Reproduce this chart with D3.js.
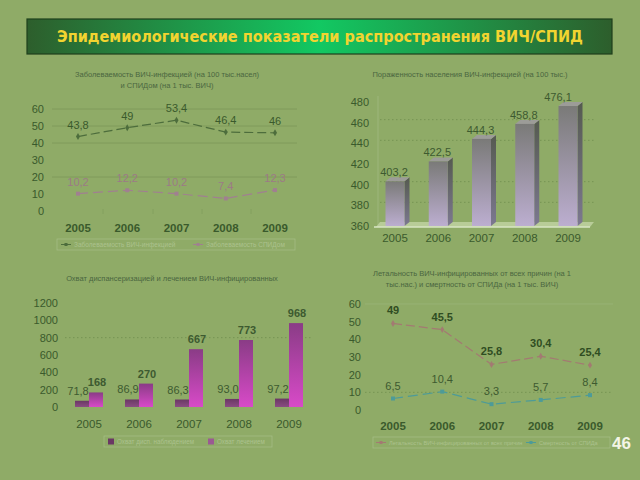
<!DOCTYPE html>
<html><head><meta charset="utf-8">
<script src="https://cdn.jsdelivr.net/npm/d3@7/dist/d3.min.js"></script>
<style>html,body{margin:0;padding:0;background:#8fab67;}svg{display:block;}</style>
</head><body>
<svg id="c" width="640" height="480"></svg>
<script>
// ---- data ----
const years = ["2005", "2006", "2007", "2008", "2009"];
const hivIncidence = [43.8, 49, 53.4, 46.4, 46];
const aidsIncidence = [10.2, 12.2, 10.2, 7.4, 12.3];
const hivPrevalence = [403.2, 422.5, 444.3, 458.8, 476.1];
const dispCoverage = [71.8, 86.9, 86.3, 93.0, 97.2];
const treatCoverage = [168, 270, 667, 773, 968];
const hivMortality = [49, 45.5, 25.8, 30.4, 25.4];
const aidsMortality = [6.5, 10.4, 3.3, 5.7, 8.4];
const ticks1 = [0, 10, 20, 30, 40, 50, 60];
const ticks2 = [360, 380, 400, 420, 440, 460, 480];
const ticks3 = [0, 200, 400, 600, 800, 1000, 1200];
const ticks4 = [0, 10, 20, 30, 40, 50, 60];
const mainTitle = "Эпидемиологические показатели распространения ВИЧ/СПИД";
const title1 = ["Заболеваемость ВИЧ-инфекцией (на 100 тыс.насел)", "и СПИДом (на 1 тыс. ВИЧ)"];
const title2 = ["Пораженность населения ВИЧ-инфекцией (на 100 тыс.)"];
const title3 = ["Охват диспансеризацией и лечением ВИЧ-инфицированных"];
const title4 = ["Летальность ВИЧ-инфицированных от всех причин (на 1", "тыс.нас.) и смертность от СПИДа (на 1 тыс. ВИЧ)"];
const legend1 = ["Заболеваемость ВИЧ-инфекцией", "Заболеваемость СПИДом"];
const legend3 = ["Охват дисп. наблюдением", "Охват лечением"];
const legend4 = ["Летальность ВИЧ-инфицированных от всех причин", "Смертность от СПИДа"];
const pageNumber = "46";

const svg = d3.select("#c");
const FONT = "'Liberation Sans', Arial, sans-serif";
const TXT = "#3a5a2c";
const defs = svg.append("defs");

svg.append("rect").attr("width", 640).attr("height", 480).attr("fill", "#8fab67");

// banner
const bg = defs.append("linearGradient").attr("id", "ban").attr("x1", 0).attr("x2", 1);
bg.append("stop").attr("offset", 0).attr("stop-color", "#2d5e2c");
bg.append("stop").attr("offset", 0.5).attr("stop-color", "#12c862");
bg.append("stop").attr("offset", 1).attr("stop-color", "#2d5e2c");
svg.append("rect").attr("x", 27).attr("y", 19).attr("width", 585).attr("height", 35)
  .attr("fill", "url(#ban)").attr("stroke", "#1f3f1c").attr("stroke-width", 1.2);
svg.append("text").attr("x", 57).attr("y", 42).attr("textLength", 526).attr("lengthAdjust", "spacingAndGlyphs")
  .attr("font-family", "'DejaVu Sans', Verdana, sans-serif").attr("font-weight", "bold").attr("font-size", 15)
  .attr("fill", "#f2d430").text(mainTitle);

svg.append("text").attr("x", 631).attr("y", 449).attr("text-anchor", "end").attr("font-family", FONT)
  .attr("font-weight", "bold").attr("font-size", 17).attr("fill", "#f3f5e6").text(pageNumber);

function titleLines(lines, cx, y0) {
  lines.forEach((l, i) => svg.append("text").attr("x", cx).attr("y", y0 + i * 11).attr("text-anchor", "middle")
    .attr("font-family", FONT).attr("font-size", 7.5).attr("fill", "#4a6640").text(l));
}
function yTicks(scale, ticks, xr) {
  ticks.forEach(t => svg.append("text").attr("x", xr).attr("y", scale(t) + 4).attr("text-anchor", "end")
    .attr("font-family", FONT).attr("font-size", 11).attr("fill", TXT).text(t));
}
function xLabels(pos, y, bold) {
  years.forEach(yr => svg.append("text").attr("x", pos(yr)).attr("y", y).attr("text-anchor", "middle")
    .attr("font-family", FONT).attr("font-size", 11.5).attr("font-weight", bold ? "bold" : "normal")
    .attr("fill", TXT).text(yr));
}
const comma = v => String(v).replace(".", ",");
const comma1 = v => v.toFixed(1).replace(".", ",");

function legendBox(x, y, w, h, items) {
  svg.append("rect").attr("x", x).attr("y", y).attr("width", w).attr("height", h)
    .attr("fill", "none").attr("stroke", "#a4bc84").attr("stroke-width", 0.8);
  items.forEach(it => {
    let tx;
    if (it.type === "line") {
      svg.append("line").attr("x1", it.x).attr("x2", it.x + 10).attr("y1", y + h / 2).attr("y2", y + h / 2)
        .attr("stroke", it.color).attr("stroke-width", 1);
      svg.append("rect").attr("x", it.x + 3.5).attr("y", y + h / 2 - 1.5).attr("width", 3).attr("height", 3).attr("fill", it.color);
      tx = it.x + 13;
    } else {
      svg.append("rect").attr("x", it.x).attr("y", y + h / 2 - 3).attr("width", 6).attr("height", 6).attr("fill", it.color);
      tx = it.x + 9;
    }
    svg.append("text").attr("x", tx).attr("y", y + h / 2 + 2.2).attr("font-family", FONT).attr("font-size", it.fs || 6.5)
      .attr("fill", "#acc28e").text(it.label);
  });
}

// ================= Chart 1 =================
{
  const x = d3.scalePoint().domain(years).range([78, 275]);
  const y = d3.scaleLinear().domain([0, 60]).range([211, 109]);
  titleLines(title1, 167, 77);
  [60, 50, 40, 20].forEach(t => svg.append("line").attr("x1", 52).attr("x2", 297).attr("y1", y(t)).attr("y2", y(t))
    .attr("stroke", "#7b9858").attr("stroke-width", 0.8));
  [103, 153, 202, 251].forEach(xx => svg.append("line").attr("x1", xx).attr("x2", xx).attr("y1", 209).attr("y2", 214)
    .attr("stroke", "#819e5e").attr("stroke-width", 0.8));
  yTicks(y, ticks1, 44);
  xLabels(x, 232, true);
  const line = d3.line().x((d, i) => x(years[i])).y(d => y(d));
  const c1 = "#4d6d3c", c2 = "#a08090";
  svg.append("path").datum(hivIncidence).attr("d", line).attr("fill", "none").attr("stroke", c1)
    .attr("stroke-width", 1.2).attr("stroke-dasharray", "9,4");
  svg.append("path").datum(aidsIncidence).attr("d", line).attr("fill", "none").attr("stroke", c2)
    .attr("stroke-width", 1.2).attr("stroke-dasharray", "10,5");
  svg.selectAll(".m1").data(hivIncidence).enter().append("path")
    .attr("d", d3.symbol().type(d3.symbolDiamond).size(14)).attr("transform", (d, i) => `translate(${x(years[i])},${y(d)})`).attr("fill", c1);
  svg.selectAll(".m2").data(aidsIncidence).enter().append("rect")
    .attr("x", (d, i) => x(years[i]) - 2).attr("y", d => y(d) - 2).attr("width", 4).attr("height", 4).attr("fill", c2);
  svg.selectAll(".l1").data(hivIncidence).enter().append("text").attr("x", (d, i) => x(years[i])).attr("y", d => y(d) - 8)
    .attr("text-anchor", "middle").attr("font-family", FONT).attr("font-size", 11).attr("fill", "#3a5a2c").text(comma);
  svg.selectAll(".l2").data(aidsIncidence).enter().append("text").attr("x", (d, i) => x(years[i])).attr("y", d => y(d) - 8)
    .attr("text-anchor", "middle").attr("font-family", FONT).attr("font-size", 11).attr("fill", "#9c7a86").text(comma);
  legendBox(57, 239, 238, 11, [
    { type: "line", x: 61, color: c1, label: legend1[0] },
    { type: "line", x: 193, color: c2, label: legend1[1] }]);
}

// ================= Chart 2 =================
{
  const x = d3.scalePoint().domain(years).range([395, 568]);
  const y = d3.scaleLinear().domain([360, 480]).range([226, 102]);
  titleLines(title2, 470, 77);
  [380, 400, 440, 460].forEach(t => svg.append("line").attr("x1", 380).attr("x2", 595).attr("y1", y(t) - 3).attr("y2", y(t) - 3)
    .attr("stroke", "#6f8e4e").attr("stroke-width", 0.8).attr("stroke-dasharray", "1.5,2.5"));
  svg.append("line").attr("x1", 378).attr("x2", 378).attr("y1", 96).attr("y2", 226).attr("stroke", "#9db67c").attr("stroke-width", 1);
  svg.append("polygon").attr("points", `376,227 380,222 594,222 590,227`).attr("fill", "#b8cc98");
  svg.append("line").attr("x1", 374).attr("x2", 590).attr("y1", 227).attr("y2", 227).attr("stroke", "#d8e6c4").attr("stroke-width", 1.5);
  yTicks(y, ticks2, 369);
  xLabels(x, 242, false);
  const fg = defs.append("linearGradient").attr("id", "bf").attr("x1", 0).attr("x2", 0).attr("y1", 0).attr("y2", 1);
  fg.append("stop").attr("offset", 0).attr("stop-color", "#7a7a78");
  fg.append("stop").attr("offset", 1).attr("stop-color", "#bcaed0");
  const sg = defs.append("linearGradient").attr("id", "bs").attr("x1", 0).attr("x2", 0).attr("y1", 0).attr("y2", 1);
  sg.append("stop").attr("offset", 0).attr("stop-color", "#555a50");
  sg.append("stop").attr("offset", 1).attr("stop-color", "#7c7890");
  const w = 19, d = 5, dy = 4, base = y(360);
  hivPrevalence.forEach((v, i) => {
    const x0 = x(years[i]) - w / 2, yt = y(v);
    svg.append("polygon").attr("points", `${x0 + w},${yt} ${x0 + w + d},${yt - dy} ${x0 + w + d},${base - dy} ${x0 + w},${base}`).attr("fill", "url(#bs)");
    svg.append("polygon").attr("points", `${x0},${yt} ${x0 + d},${yt - dy} ${x0 + w + d},${yt - dy} ${x0 + w},${yt}`).attr("fill", "#9c9c98");
    svg.append("rect").attr("x", x0).attr("y", yt).attr("width", w).attr("height", base - yt).attr("fill", "url(#bf)");
    svg.append("text").attr("x", x(years[i]) - (i === 4 ? 10 : 1)).attr("y", yt - 5).attr("text-anchor", "middle")
      .attr("font-family", FONT).attr("font-size", 11).attr("fill", "#3d5a30").text(v.toFixed(1).replace(".", ","));
  });
}

// ================= Chart 3 =================
{
  const x = d3.scaleBand().domain(years).range([64, 314]);
  const y = d3.scaleLinear().domain([0, 1200]).range([407, 303]);
  titleLines(title3, 172, 281);
  svg.append("line").attr("x1", 65).attr("x2", 312).attr("y1", y(800)).attr("y2", y(800))
    .attr("stroke", "#6f8e4e").attr("stroke-width", 0.8).attr("stroke-dasharray", "1.5,2.5");
  yTicks(y, ticks3, 58);
  xLabels(yr => x(yr) + x.bandwidth() / 2, 428, false);
  const g1 = defs.append("linearGradient").attr("id", "p1").attr("x1", 0).attr("x2", 0).attr("y1", 0).attr("y2", 1);
  g1.append("stop").attr("offset", 0).attr("stop-color", "#6a3864");
  g1.append("stop").attr("offset", 1).attr("stop-color", "#8a4c82");
  const g2 = defs.append("linearGradient").attr("id", "p2").attr("x1", 0).attr("x2", 0).attr("y1", 0).attr("y2", 1);
  g2.append("stop").attr("offset", 0).attr("stop-color", "#8a3c86");
  g2.append("stop").attr("offset", 1).attr("stop-color", "#d84ac8");
  const bw = 14;
  years.forEach((yr, i) => {
    const c = x(yr) + x.bandwidth() / 2;
    const v1 = dispCoverage[i], v2 = treatCoverage[i];
    svg.append("rect").attr("x", c - bw).attr("y", y(v1)).attr("width", bw).attr("height", y(0) - y(v1)).attr("fill", "url(#p1)");
    svg.append("rect").attr("x", c).attr("y", y(v2)).attr("width", bw).attr("height", y(0) - y(v2)).attr("fill", "url(#p2)");
    svg.append("text").attr("x", c - bw / 2 - 4).attr("y", y(v1) - 6).attr("text-anchor", "middle")
      .attr("font-family", FONT).attr("font-size", 11).attr("fill", "#3d5a30").text(comma1(v1));
    svg.append("text").attr("x", c + bw / 2 + 1).attr("y", y(v2) - 6).attr("text-anchor", "middle")
      .attr("font-family", FONT).attr("font-size", 11).attr("fill", "#3d5a30").attr("font-weight", "bold").text(v2);
  });
  legendBox(104, 436, 168, 11, [
    { type: "box", x: 108, color: "#6a3864", label: legend3[0], fs: 6.3 },
    { type: "box", x: 208, color: "#9a5a92", label: legend3[1], fs: 6.3 }]);
}

// ================= Chart 4 =================
{
  const x = d3.scalePoint().domain(years).range([393, 590]);
  const y = d3.scaleLinear().domain([0, 60]).range([410, 304]);
  titleLines(title4, 472, 276);
  svg.append("line").attr("x1", 365).attr("x2", 613).attr("y1", y(60)).attr("y2", y(60)).attr("stroke", "#9ab57a").attr("stroke-width", 0.8);
  svg.append("line").attr("x1", 365).attr("x2", 613).attr("y1", y(10)).attr("y2", y(10))
    .attr("stroke", "#6f8e4e").attr("stroke-width", 0.8).attr("stroke-dasharray", "1.5,2.5");
  yTicks(y, ticks4, 361);
  xLabels(x, 430, true);
  const line = d3.line().x((d, i) => x(years[i])).y(d => y(d));
  const c1 = "#a37a72", c2 = "#4d9b98";
  svg.append("path").datum(hivMortality).attr("d", line).attr("fill", "none").attr("stroke", c1)
    .attr("stroke-width", 1.2).attr("stroke-dasharray", "9,4");
  svg.append("path").datum(aidsMortality).attr("d", line).attr("fill", "none").attr("stroke", c2)
    .attr("stroke-width", 1.2).attr("stroke-dasharray", "10,5");
  svg.selectAll(".n1").data(hivMortality).enter().append("path")
    .attr("d", d3.symbol().type(d3.symbolDiamond).size(14)).attr("transform", (d, i) => `translate(${x(years[i])},${y(d)})`).attr("fill", c1);
  svg.selectAll(".n2").data(aidsMortality).enter().append("rect")
    .attr("x", (d, i) => x(years[i]) - 2).attr("y", d => y(d) - 2).attr("width", 4).attr("height", 4).attr("fill", c2);
  svg.selectAll(".k1").data(hivMortality).enter().append("text").attr("x", (d, i) => x(years[i])).attr("y", d => y(d) - 9)
    .attr("text-anchor", "middle").attr("font-family", FONT).attr("font-size", 11).attr("font-weight", "bold").attr("fill", "#2f4d22").text(comma);
  svg.selectAll(".k2").data(aidsMortality).enter().append("text").attr("x", (d, i) => x(years[i])).attr("y", d => y(d) - 9)
    .attr("text-anchor", "middle").attr("font-family", FONT).attr("font-size", 11).attr("fill", "#3d5a30").text(comma);
  legendBox(373, 437, 237, 11, [
    { type: "line", x: 376, color: c1, label: legend4[0], fs: 5.6 },
    { type: "line", x: 526, color: c2, label: legend4[1], fs: 5.6 }]);
}
</script>
</body></html>
